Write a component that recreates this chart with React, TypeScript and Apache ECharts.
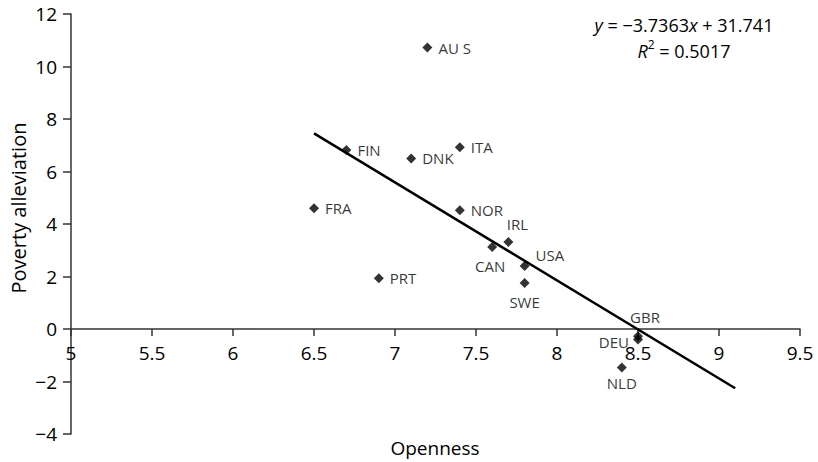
import React, { useEffect, useRef } from "react";
import * as echarts from "echarts";

const countries = ["AU S", "FIN", "DNK", "ITA", "FRA", "NOR", "IRL", "CAN", "USA", "SWE", "PRT", "GBR", "DEU", "NLD"];
const openness = [7.2, 6.7, 7.1, 7.4, 6.5, 7.4, 7.7, 7.6, 7.8, 7.8, 6.9, 8.5, 8.5, 8.4];
const poverty = [10.72, 6.82, 6.5, 6.92, 4.6, 4.52, 3.31, 3.12, 2.4, 1.75, 1.93, -0.28, -0.4, -1.47];
const trendX = [6.5, 9.1];
const trendY = [7.455, -2.259];
const xTicks = { min: 5, max: 9.5, interval: 0.5 };
const yTicks = { min: -4, max: 12, interval: 2 };

const labelPlacement: Record<string, { position: string; offset?: number[] }> = {
  "AU S": { position: "right" },
  FIN: { position: "right" },
  DNK: { position: "right" },
  ITA: { position: "right" },
  FRA: { position: "right" },
  NOR: { position: "right" },
  IRL: { position: "top", offset: [9, 0] },
  CAN: { position: "bottom", offset: [-2, 0] },
  USA: { position: "right", offset: [0, -11] },
  SWE: { position: "bottom" },
  PRT: { position: "right" },
  GBR: { position: "top", offset: [7, -1] },
  DEU: { position: "left", offset: [2, 2] },
  NLD: { position: "bottom", offset: [0, -3] },
};

const FONT = "'Open Sans', 'Noto Sans', sans-serif";

export default function App() {
  const ref = useRef<HTMLDivElement>(null);
  useEffect(() => {
    document.body.style.margin = "0";
    const chart = echarts.init(ref.current!, null, { renderer: "svg" });
    const scatterData = countries.map((c, i) => ({
      name: c,
      value: [openness[i], poverty[i]],
      label: {
        show: true,
        position: labelPlacement[c].position,
        offset: labelPlacement[c].offset || [0, 0],
        distance: 6,
      },
    }));
    chart.setOption({
      animation: false,
      textStyle: { fontFamily: FONT },
      grid: { left: 71, right: 18, top: 14, bottom: 28, containLabel: false, outerBoundsMode: "none" },
      xAxis: {
        type: "value",
        min: xTicks.min,
        max: xTicks.max,
        interval: xTicks.interval,
        offset: -105,
        splitLine: { show: false },
        axisLine: { onZero: false, lineStyle: { color: "#333", width: 1.5 } },
        axisTick: { show: true, length: 7, lineStyle: { color: "#333", width: 1.5 } },
        axisLabel: { color: "#000", fontSize: 19, margin: 14, fontFamily: FONT },
      },
      yAxis: {
        type: "value",
        min: yTicks.min,
        max: yTicks.max,
        interval: yTicks.interval,
        splitLine: { show: false },
        axisLine: { onZero: false, lineStyle: { color: "#333", width: 1.5 } },
        axisTick: { show: true, length: 8, lineStyle: { color: "#333", width: 1.5 } },
        axisLabel: {
          color: "#000",
          fontSize: 19,
          margin: 14,
          fontFamily: FONT,
          formatter: (v: number) => (v < 0 ? "\u2212" + Math.abs(v) : String(v)),
        },
      },
      graphic: [
        {
          type: "text",
          x: 18,
          y: 208,
          rotation: Math.PI / 2,
          style: {
            text: "Poverty alleviation",
            fontSize: 20,
            fontFamily: FONT,
            fill: "#000",
            align: "center",
            verticalAlign: "middle",
          },
        },
        {
          type: "text",
          x: 435,
          y: 448,
          style: {
            text: "Openness",
            fontSize: 19,
            fontFamily: FONT,
            fill: "#000",
            align: "center",
            verticalAlign: "middle",
          },
        },
        {
          type: "text",
          x: 684,
          y: 25,
          style: {
            text: "{i|y} = \u22123.7363{i|x} + 31.741",
            align: "center",
            verticalAlign: "middle",
            fill: "#000",
            fontSize: 18,
            fontFamily: FONT,
            rich: {
              i: { fontStyle: "italic", fontSize: 18, fontFamily: FONT, fill: "#000" },
            },
          },
        },
        {
          type: "text",
          x: 684,
          y: 49,
          style: {
            text: "{i|R}{sup|2}{n| = 0.5017}",
            align: "center",
            verticalAlign: "middle",
            fill: "#000",
            fontSize: 18,
            fontFamily: FONT,
            rich: {
              i: { fontStyle: "italic", fontSize: 18, fontFamily: FONT, fill: "#000", verticalAlign: "bottom" },
              sup: { fontSize: 12, fontFamily: FONT, fill: "#000", verticalAlign: "bottom", padding: [0, 0, 9, 0] },
              n: { fontSize: 18, fontFamily: FONT, fill: "#000", verticalAlign: "bottom" },
            },
          },
        },
      ],
      series: [
        {
          type: "line",
          data: trendX.map((x, i) => [x, trendY[i]]),
          symbol: "none",
          lineStyle: { color: "#000", width: 2.5 },
          z: 3,
        },
        {
          type: "scatter",
          symbol: "diamond",
          symbolSize: 10,
          itemStyle: { color: "#000" },
          label: { color: "#000", fontSize: 15, fontFamily: FONT, formatter: "{b}" },
          data: scatterData,
          z: 4,
        },
      ],
    });
    return () => chart.dispose();
  }, []);
  return <div ref={ref} style={{ width: 818, height: 462 }} />;
}
